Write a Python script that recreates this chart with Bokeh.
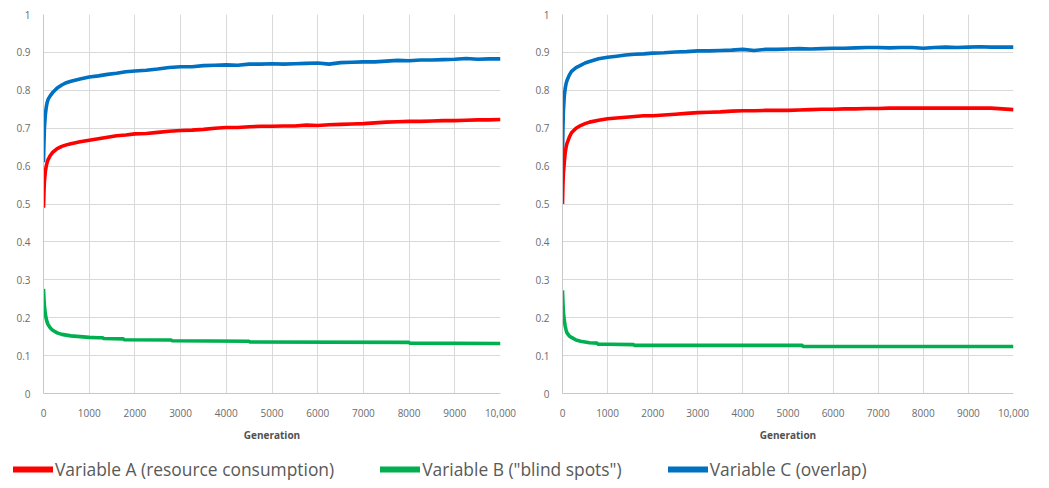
from bokeh.plotting import figure
from bokeh.layouts import column, row
from bokeh.models import FixedTicker, Legend, LegendItem, Range1d
from bokeh.embed import file_html
from bokeh.resources import INLINE

# ---------------- data ----------------
gens = [0, 10, 20, 40, 60, 80, 100, 150, 200, 300, 400, 500, 600, 800, 1000, 1200, 1400,
        1600, 1800, 2000, 2250, 2500, 2750, 3000, 3250, 3500, 3750, 4000, 4250, 4500,
        4750, 5000, 5250, 5500, 5750, 6000, 6250, 6500, 6750, 7000, 7250, 7500, 7750,
        8000, 8250, 8500, 8750, 9000, 9250, 9500, 9750, 10000]

left_A = [0.49, 0.53, 0.56, 0.585, 0.600, 0.610, 0.617, 0.628, 0.636, 0.646, 0.652, 0.656,
          0.659, 0.664, 0.668, 0.672, 0.676, 0.680, 0.682, 0.685, 0.686, 0.689, 0.692,
          0.694, 0.695, 0.697, 0.700, 0.702, 0.702, 0.704, 0.705, 0.705, 0.706, 0.706,
          0.708, 0.707, 0.709, 0.710, 0.711, 0.712, 0.714, 0.716, 0.717, 0.718, 0.718,
          0.719, 0.720, 0.720, 0.721, 0.722, 0.722, 0.723]
left_C = [0.61, 0.66, 0.70, 0.735, 0.755, 0.768, 0.776, 0.786, 0.794, 0.806, 0.814, 0.820,
          0.824, 0.830, 0.835, 0.838, 0.842, 0.845, 0.849, 0.851, 0.853, 0.856, 0.860,
          0.862, 0.862, 0.865, 0.866, 0.867, 0.866, 0.869, 0.869, 0.870, 0.869, 0.870,
          0.871, 0.872, 0.869, 0.873, 0.874, 0.875, 0.875, 0.877, 0.879, 0.878, 0.880,
          0.880, 0.881, 0.882, 0.884, 0.882, 0.883, 0.883]
left_B_gens = [0, 10, 20, 40, 60, 80, 100, 150, 200, 300, 400, 500, 600, 800, 1000, 1200,
               1300, 1310, 1750, 1760, 2800, 2810, 4500, 4510, 8000, 8010, 10000]
left_B = [0.276, 0.25, 0.232, 0.21, 0.197, 0.188, 0.182, 0.173, 0.167, 0.160, 0.156, 0.154,
          0.152, 0.150, 0.148, 0.147, 0.147, 0.145, 0.144, 0.142, 0.141, 0.139, 0.138,
          0.136, 0.135, 0.133, 0.132]

right_A = [0.50, 0.55, 0.58, 0.61, 0.635, 0.650, 0.660, 0.676, 0.688, 0.700, 0.707, 0.712,
           0.716, 0.721, 0.725, 0.727, 0.729, 0.731, 0.733, 0.733, 0.735, 0.737, 0.739,
           0.741, 0.742, 0.743, 0.745, 0.746, 0.746, 0.747, 0.747, 0.747, 0.748, 0.749,
           0.750, 0.750, 0.751, 0.751, 0.752, 0.752, 0.753, 0.753, 0.753, 0.753, 0.753,
           0.753, 0.753, 0.753, 0.753, 0.753, 0.751, 0.749]
right_C = [0.624, 0.70, 0.745, 0.785, 0.805, 0.818, 0.826, 0.840, 0.850, 0.860, 0.866, 0.872,
           0.876, 0.883, 0.887, 0.890, 0.893, 0.895, 0.896, 0.898, 0.899, 0.901, 0.902,
           0.904, 0.904, 0.905, 0.906, 0.908, 0.905, 0.908, 0.908, 0.909, 0.910, 0.909,
           0.910, 0.911, 0.911, 0.912, 0.913, 0.913, 0.912, 0.913, 0.913, 0.911, 0.913,
           0.914, 0.913, 0.914, 0.915, 0.914, 0.914, 0.914]
right_B_gens = [0, 10, 20, 40, 60, 80, 100, 150, 200, 300, 400, 500, 600, 770, 780, 1000,
                1580, 1590, 5320, 5330, 10000]
right_B = [0.272, 0.24, 0.215, 0.193, 0.178, 0.167, 0.160, 0.152, 0.148, 0.141, 0.138, 0.136,
           0.134, 0.133, 0.130, 0.130, 0.129, 0.127, 0.127, 0.124, 0.124]

x_ticks = [0, 1000, 2000, 3000, 4000, 5000, 6000, 7000, 8000, 9000, 10000]
x_tick_labels = ["0", "1000", "2000", "3000", "4000", "5000", "6000", "7000", "8000", "9000", "10,000"]
y_ticks = [0, 0.1, 0.2, 0.3, 0.4, 0.5, 0.6, 0.7, 0.8, 0.9, 1.0]
y_tick_labels = ["0", "0.1", "0.2", "0.3", "0.4", "0.5", "0.6", "0.7", "0.8", "0.9", "1"]

series_names = ["Variable A (resource consumption)", "Variable B (\"blind spots\")", "Variable C (overlap)"]
RED, GREEN, BLUE = "#ff0000", "#00b050", "#0070c0"
FONT = "Open Sans"
TICK_COLOR = "#6b6b6b"
LW = 3.6


def make_panel(frame_w, b_left, b_right, a, b_gens, b, c):
    p = figure(output_backend="svg", toolbar_location=None,
               frame_width=frame_w, frame_height=379,
               x_range=Range1d(0, 10000), y_range=Range1d(0, 1),
               min_border_left=b_left, min_border_right=b_right,
               min_border_top=14, min_border_bottom=52)
    p.outline_line_color = None
    p.background_fill_color = "white"
    p.border_fill_color = "white"
    p.xaxis.ticker = FixedTicker(ticks=x_ticks)
    p.yaxis.ticker = FixedTicker(ticks=y_ticks)
    p.xaxis.major_label_overrides = {t: l for t, l in zip(x_ticks, x_tick_labels)}
    p.yaxis.major_label_overrides = {t: l for t, l in zip(y_ticks, y_tick_labels)}
    for ax in (p.xaxis, p.yaxis):
        ax.major_tick_line_color = None
        ax.minor_tick_line_color = None
        ax.axis_line_color = "#c8c8c8"
        ax.major_label_text_color = TICK_COLOR
        ax.major_label_text_font = FONT
        ax.major_label_text_font_size = "10px"
    p.xaxis.major_label_standoff = 9
    p.yaxis.major_label_standoff = 7
    p.xaxis.axis_label = "Generation"
    p.xaxis.axis_label_text_font = FONT
    p.xaxis.axis_label_text_font_style = "bold"
    p.xaxis.axis_label_text_font_size = "10px"
    p.xaxis.axis_label_text_color = "#505050"
    p.xaxis.axis_label_standoff = 8
    p.xgrid.ticker = FixedTicker(ticks=x_ticks)
    p.ygrid.ticker = FixedTicker(ticks=y_ticks)
    p.grid.grid_line_color = "#d9d9d9"
    p.grid.grid_line_width = 1
    p.line(gens, c, line_color=BLUE, line_width=LW)
    p.line(gens, a, line_color=RED, line_width=LW)
    p.line(b_gens, b, line_color=GREEN, line_width=LW)
    return p


p1 = make_panel(457, 43, 30, left_A, left_B_gens, left_B, left_C)
p2 = make_panel(451, 32, 28, right_A, right_B_gens, right_B, right_C)

# legend strip: the renderers carry the series data but lie outside the visible ranges
leg = figure(output_backend="svg", toolbar_location=None, width=1041, height=43,
             x_range=Range1d(20000, 20001), y_range=Range1d(5, 6),
             min_border=0, min_border_left=0, min_border_right=0,
             min_border_top=0, min_border_bottom=0)
leg.axis.visible = False
leg.grid.visible = False
leg.outline_line_color = None
items = []
for name, col, ys in zip(series_names, [RED, GREEN, BLUE], [left_A, left_B, left_C]):
    xs = gens if len(ys) == len(gens) else left_B_gens
    r = leg.line(x=xs, y=ys, line_color=col, line_width=6, line_cap="round")
    items.append(LegendItem(label=name, renderers=[r]))
legend = Legend(items=items, orientation="horizontal", location=(13, 7),
                glyph_width=40, glyph_height=20, label_height=20,
                label_standoff=2, spacing=46, padding=0, margin=0,
                border_line_alpha=0, background_fill_alpha=0,
                label_text_font=FONT, label_text_font_size="17.4px",
                label_text_color="#595959")
leg.add_layout(legend, "center")

layout = column(row(p1, p2), leg)
open("out.html", "w").write(file_html(layout, INLINE))
